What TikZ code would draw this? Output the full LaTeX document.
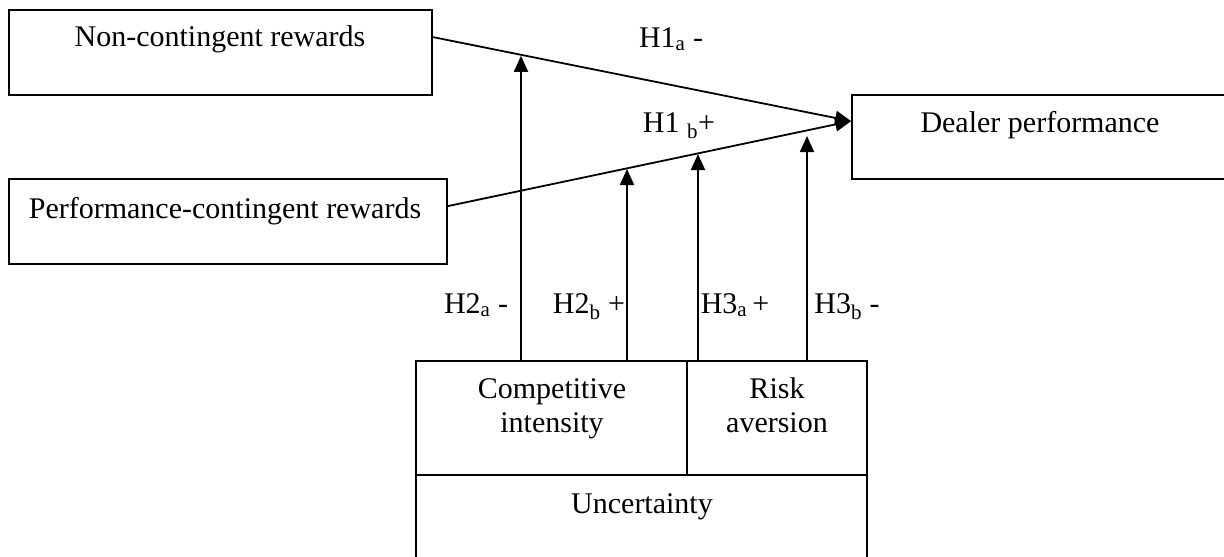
\documentclass[tikz,border=0pt]{standalone}
\usepackage{fontspec}
\setmainfont{Liberation Serif}
\usetikzlibrary{arrows.meta,calc}
\begin{document}
\begin{tikzpicture}[x=1pt,y=-1pt,
  box/.style={draw,line width=1.8pt,rectangle,inner sep=0pt},
  lbl/.style={anchor=base,inner sep=0pt,font=\fontsize{30}{36}\selectfont},
  conn/.style={line width=1.8pt,-{Triangle[length=16pt,width=14pt]}}]
\clip (0,0) rectangle (1224,557);
% boxes
\node[box,minimum width=423pt,minimum height=85pt] (ncr) at (220.5,52.5) {};
\node[box,minimum width=438pt,minimum height=85pt] (pcr) at (228,221.5) {};
\node[box,minimum width=390pt,minimum height=84pt] (dp) at (1047,137) {};
\node[box,minimum width=271pt,minimum height=114pt] (ci) at (551.5,418) {};
\node[box,minimum width=180pt,minimum height=114pt] (ra) at (777,418) {};
\node[box,minimum width=451pt,minimum height=120pt] (unc) at (641.5,535) {};
% texts
\node[lbl] (tncr) at (220,46) {Non-contingent rewards};
\node[lbl] (tpcr) at (225,218) {Performance-contingent rewards};
\node[lbl] (tdp) at (1040,132) {Dealer performance};
\node[lbl] (tci1) at (552,398) {Competitive};
\node[lbl] (tci2) at (552,432) {intensity};
\node[lbl] (tra1) at (777,398) {Risk};
\node[lbl] (tra2) at (777,432) {aversion};
\node[lbl] (tunc) at (642,513) {Uncertainty};
% hypothesis labels
\node[lbl] (h1a) at (671,47) {H1\textsubscript{a} -};
\node[lbl] (h1b) at (679,132) {H1 \textsubscript{b}+};
\node[lbl] (h2a) at (476,313) {H2\textsubscript{a} -};
\node[lbl] (h2b) at (589,313) {H2\textsubscript{b} +};
\node[lbl] (h3a) at (735,313) {H3\textsubscript{a}\,+};
\node[lbl] (h3b) at (847,313) {H3\textsubscript{b} -};
% connector coordinates
\coordinate (s1) at ($(ncr.north east)+(0,28)$);
\coordinate (s2) at ($(pcr.north east)+(0,28)$);
\coordinate (tgt) at ($(dp.north west)+(0,27)$);
\coordinate (b1) at (521,361);
\coordinate (b2) at (627,361);
\coordinate (b3) at (698,361);
\coordinate (b4) at (807,361);
\coordinate (e1) at (521,55.8);
\coordinate (e2) at (627,169);
\coordinate (e3) at (698,154);
\coordinate (e4) at (807,136);
% connectors
\draw[conn] (s1) -- (tgt);
\draw[conn] (s2) -- (tgt);
\draw[conn] (b1) -- (e1);
\draw[conn] (b2) -- (e2);
\draw[conn] (b3) -- (e3);
\draw[conn] (b4) -- (e4);
\end{tikzpicture}
\end{document}
